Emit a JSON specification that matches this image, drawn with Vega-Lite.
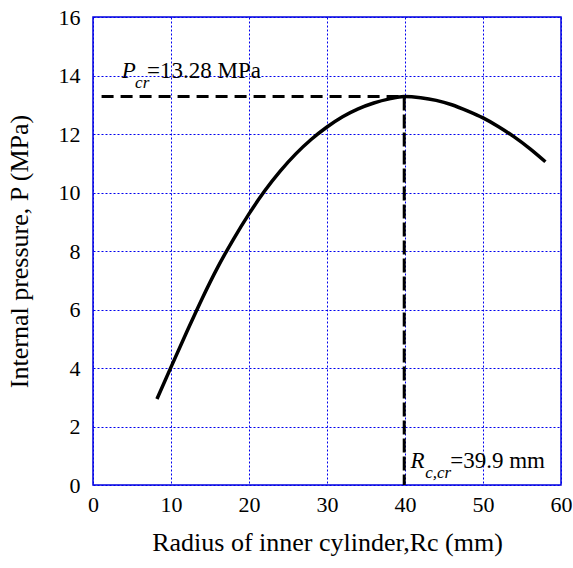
{
  "$schema": "https://vega.github.io/schema/vega-lite/v6.json",
  "width": 468,
  "height": 468,
  "autosize": {"type": "none"},
  "padding": {"left": 93, "top": 17, "right": 12, "bottom": 83},
  "background": "white",
  "config": {
    "view": {"stroke": "#0000dd", "strokeWidth": 1.5},
    "font": "Liberation Serif",
    "axis": {
      "labelFont": "Liberation Serif",
      "titleFont": "Liberation Serif",
      "labelFontSize": 22,
      "titleFontSize": 26,
      "labelColor": "#000",
      "titleColor": "#000",
      "titleFontWeight": "normal",
      "domain": false,
      "ticks": false,
      "gridColor": "#0000ee",
      "gridDash": [2, 2],
      "gridWidth": 1,
      "gridOpacity": 1
    }
  },
  "datasets": {
    "curve": [
      {"r": 8.2, "p": 2.94},
      {"r": 10, "p": 4.03},
      {"r": 12, "p": 5.22},
      {"r": 14, "p": 6.38},
      {"r": 16, "p": 7.45},
      {"r": 18, "p": 8.40},
      {"r": 20, "p": 9.27},
      {"r": 22, "p": 10.05},
      {"r": 24, "p": 10.73},
      {"r": 26, "p": 11.32},
      {"r": 28, "p": 11.82},
      {"r": 30, "p": 12.24},
      {"r": 32, "p": 12.59},
      {"r": 34, "p": 12.86},
      {"r": 36, "p": 13.06},
      {"r": 38, "p": 13.20},
      {"r": 39.9, "p": 13.28},
      {"r": 42, "p": 13.24},
      {"r": 44, "p": 13.15},
      {"r": 46, "p": 13.00},
      {"r": 48, "p": 12.79},
      {"r": 50, "p": 12.55},
      {"r": 52, "p": 12.25},
      {"r": 54, "p": 11.90},
      {"r": 56, "p": 11.50},
      {"r": 58, "p": 11.05}
    ],
    "hline": [{"r": 1.1, "p": 13.28}, {"r": 39.9, "p": 13.28}],
    "vline": [{"r": 39.9, "p": 13.28}, {"r": 39.9, "p": 0}]
  },
  "layer": [
    {
      "data": {"name": "hline"},
      "mark": {"type": "line", "color": "#000", "strokeWidth": 3, "strokeDash": [12, 7]},
      "encoding": {
        "x": {"field": "r", "type": "quantitative", "scale": {"domain": [0, 60], "nice": false},
          "axis": {"values": [0, 10, 20, 30, 40, 50, 60], "title": "Radius of inner cylinder,Rc (mm)", "labelPadding": 9, "titlePadding": 14, "labelFlush": false}},
        "y": {"field": "p", "type": "quantitative", "scale": {"domain": [0, 16], "nice": false},
          "axis": {"values": [0, 2, 4, 6, 8, 10, 12, 14, 16], "title": "Internal pressure, P (MPa)", "labelPadding": 13, "titlePadding": 26, "labelFlush": false}}
      }
    },
    {
      "data": {"name": "vline"},
      "mark": {"type": "line", "color": "#000", "strokeWidth": 3, "strokeDash": [14, 4]},
      "encoding": {
        "x": {"field": "r", "type": "quantitative"},
        "y": {"field": "p", "type": "quantitative"}
      }
    },
    {
      "data": {"name": "curve"},
      "mark": {"type": "line", "color": "#000", "strokeWidth": 3.5, "interpolate": "monotone"},
      "encoding": {
        "x": {"field": "r", "type": "quantitative"},
        "y": {"field": "p", "type": "quantitative"}
      }
    },
    {
      "data": {"values": [{"r": 3.7, "p": 13.91, "t": "P"}, {"r": 40.7, "p": 0.58, "t": "R"}]},
      "mark": {"type": "text", "font": "Liberation Serif", "fontStyle": "italic", "fontSize": 23, "align": "left", "baseline": "alphabetic", "color": "#000"},
      "encoding": {
        "x": {"field": "r", "type": "quantitative"},
        "y": {"field": "p", "type": "quantitative"},
        "text": {"field": "t"}
      }
    },
    {
      "data": {"values": [{"r": 5.4, "p": 13.57, "t": "cr"}, {"r": 42.6, "p": 0.24, "t": "c,cr"}]},
      "mark": {"type": "text", "font": "Liberation Serif", "fontStyle": "italic", "fontSize": 17, "align": "left", "baseline": "alphabetic", "color": "#000"},
      "encoding": {
        "x": {"field": "r", "type": "quantitative"},
        "y": {"field": "p", "type": "quantitative"},
        "text": {"field": "t"}
      }
    },
    {
      "data": {"values": [{"r": 6.92, "p": 13.91, "t": "=13.28 MPa"}, {"r": 45.8, "p": 0.58, "t": "=39.9 mm"}]},
      "mark": {"type": "text", "font": "Liberation Serif", "fontSize": 23, "align": "left", "baseline": "alphabetic", "color": "#000"},
      "encoding": {
        "x": {"field": "r", "type": "quantitative"},
        "y": {"field": "p", "type": "quantitative"},
        "text": {"field": "t"}
      }
    }
  ]
}
